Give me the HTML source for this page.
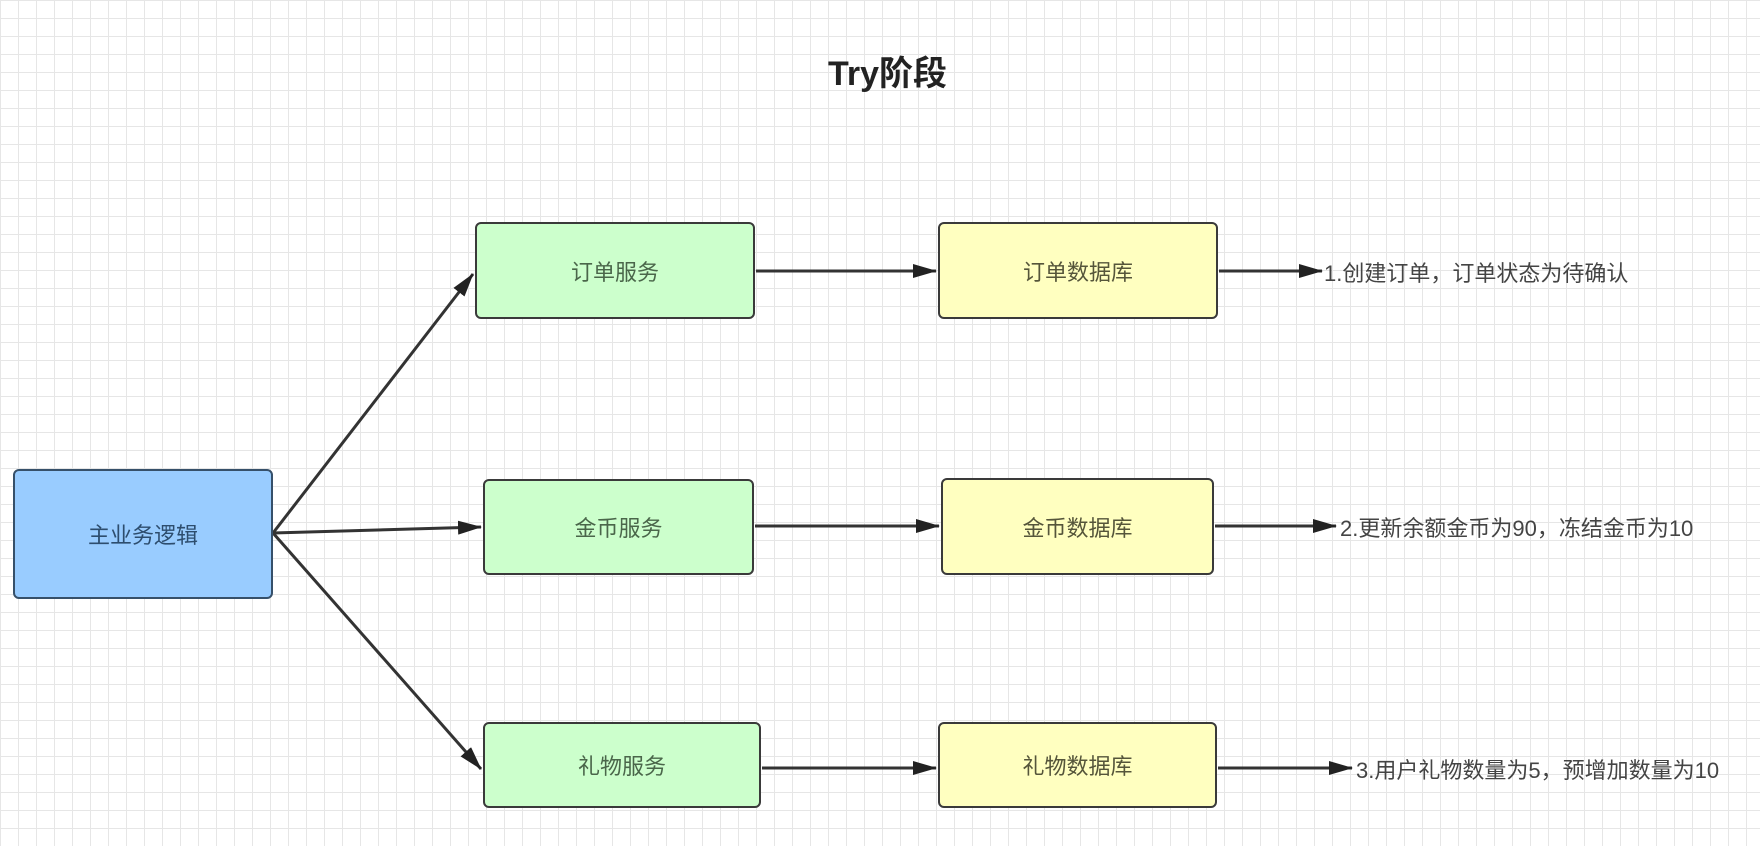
<!DOCTYPE html>
<html><head><meta charset="utf-8"><style>
html,body{margin:0;padding:0;}
body{width:1760px;height:846px;overflow:hidden;background:#fff;
background-image:linear-gradient(#e6e6e6 1px,transparent 1px),linear-gradient(90deg,#e6e6e6 1px,transparent 1px);
background-size:18px 18px;font-family:"Liberation Sans","Noto Sans CJK SC",sans-serif;}
.b{position:absolute;border:2.5px solid #3a3a3a;border-radius:6px;box-sizing:border-box;display:flex;align-items:center;justify-content:center;font-size:22px;color:#444;}
.g{background:#ccffcc;color:#4a664a}.y{background:#ffffc0;color:#55553a}
.t{position:absolute;font-size:22px;color:#444;white-space:nowrap;}
</style></head><body>
<div class="t" style="left:828px;top:46px;font-size:34px;font-weight:bold;color:#222">Try阶段</div>
<svg width="1760" height="846" style="position:absolute;left:0;top:0">
<defs>
<marker id="A" markerWidth="24" markerHeight="14" refX="23" refY="7" orient="auto" markerUnits="userSpaceOnUse"><path d="M0,0 L24,7 L0,14 Z" fill="#222"/></marker></defs>
<g stroke="#333" stroke-width="3" fill="none">
<line x1="273" y1="533" x2="473" y2="274" marker-end="url(#A)"/>
<line x1="273" y1="533" x2="481" y2="527" marker-end="url(#A)"/>
<line x1="273" y1="533" x2="481" y2="769" marker-end="url(#A)"/>
<line x1="756" y1="271" x2="936" y2="271" marker-end="url(#A)"/>
<line x1="755" y1="526" x2="939" y2="526" marker-end="url(#A)"/>
<line x1="762" y1="768" x2="936" y2="768" marker-end="url(#A)"/>
<line x1="1219" y1="271" x2="1322" y2="271" marker-end="url(#A)"/>
<line x1="1215" y1="526" x2="1336" y2="526" marker-end="url(#A)"/>
<line x1="1218" y1="768" x2="1352" y2="768" marker-end="url(#A)"/>
</g></svg>
<div class="b" style="left:13px;top:469px;width:260px;height:130px;background:#99ccff;border-color:#36506a;color:#2d4d6e">主业务逻辑</div>
<div class="b g" style="left:475px;top:222px;width:280px;height:97px">订单服务</div>
<div class="b y" style="left:938px;top:222px;width:280px;height:97px">订单数据库</div>
<div class="b g" style="left:483px;top:479px;width:271px;height:96px">金币服务</div>
<div class="b y" style="left:941px;top:478px;width:273px;height:97px">金币数据库</div>
<div class="b g" style="left:483px;top:722px;width:278px;height:86px">礼物服务</div>
<div class="b y" style="left:938px;top:722px;width:279px;height:86px">礼物数据库</div>
<div class="t" style="left:1324px;top:256px">1.创建订单，订单状态为待确认</div>
<div class="t" style="left:1340px;top:511px">2.更新余额金币为90，冻结金币为10</div>
<div class="t" style="left:1356px;top:753px">3.用户礼物数量为5，预增加数量为10</div>
</body></html>
